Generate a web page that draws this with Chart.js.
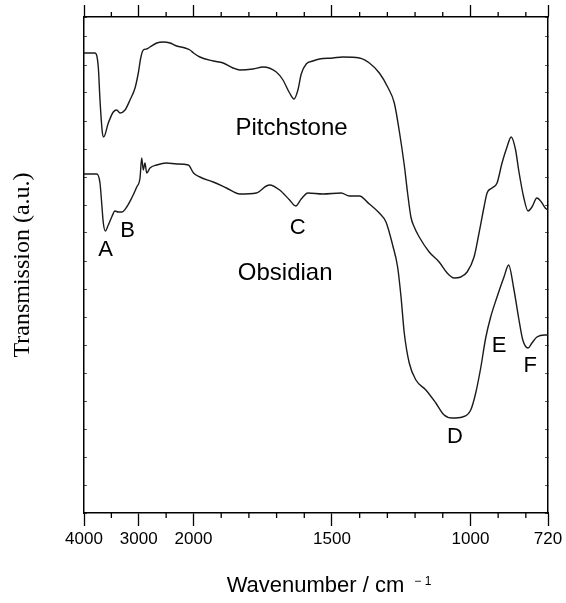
<!DOCTYPE html>
<html>
<head>
<meta charset="utf-8">
<script src="https://cdn.jsdelivr.net/npm/chart.js@4.4.0/dist/chart.umd.min.js"></script>
<style>
  html, body { margin: 0; padding: 0; background: #fff; }
</style>
</head>
<body>
<canvas id="irChart" width="566" height="603"></canvas>
<script>
// IR spectra: wavenumber (cm-1) and transmission (a.u.)
const pitchWave = [4000, 3799, 3739, 3708, 3666, 3640, 3556, 3465, 3403, 3342, 3251, 3160, 3068, 3008, 2964, 2917, 2855, 2795, 2672, 2552,
  2429, 2307, 2155, 2064, 2000, 1977, 1929, 1893, 1857, 1833, 1785, 1749, 1701, 1677, 1653, 1637, 1623, 1611, 1593, 1569,
  1545, 1497, 1461, 1401, 1365, 1329, 1299, 1275, 1257, 1239, 1227, 1215, 1203, 1185, 1149, 1113, 1084, 1059, 1035, 1012,
  987, 969, 951, 940, 922, 904, 886, 868, 853, 837, 826, 808, 792, 778, 760, 744, 730, 720];
const pitchTrans = [460, 460, 446, 413, 381, 376, 390, 401, 403, 400, 403, 413, 425, 440, 455, 463, 464, 466, 470, 471,
  470, 467, 465, 463, 460, 456, 452, 450, 445, 443, 444, 446, 441, 433, 420, 414, 423, 439, 449, 452,
  454, 455, 456, 455, 450, 440, 426, 410, 382, 348, 320, 296, 286, 276, 261, 251, 240, 235, 236, 241,
  256, 280, 306, 320, 325, 330, 350, 366, 376, 363, 343, 316, 302, 306, 315, 311, 305, 303];

const obsWave = [4000, 3768, 3708, 3677, 3647, 3611, 3556, 3494, 3434, 3374, 3311, 3220, 3129, 3037, 2977, 2946, 2917, 2886, 2855, 2795,
  2672, 2490, 2307, 2095, 2000, 1977, 1929, 1881, 1833, 1773, 1737, 1725, 1689, 1653, 1631, 1611, 1587, 1533, 1467, 1437,
  1401, 1365, 1329, 1305, 1281, 1263, 1251, 1239, 1221, 1197, 1161, 1125, 1095, 1065, 1029, 999, 981, 963, 945, 927,
  904, 879, 862, 844, 826, 811, 792, 778, 760, 732, 720];
const obsTrans = [339, 339, 330, 310, 290, 282, 288, 296, 302, 301, 301, 306, 315, 326, 335, 355, 343, 350, 340, 345,
  348, 350, 349, 348, 340, 336, 331, 325, 319, 320, 327, 328, 323, 313, 307, 314, 320, 319, 320, 317,
  317, 309, 300, 291, 268, 246, 217, 180, 150, 133, 123, 110, 98, 95, 96, 103, 120, 145, 175, 196,
  216, 236, 248, 225, 195, 173, 165, 170, 176, 178, 178];

const majorTicks = [4000, 3000, 2000, 1500, 1000, 720];
const minorTicks = [3500, 2500, 1900, 1800, 1700, 1600, 1400, 1300, 1200, 1100, 900, 800];

const labelText = ['Pitchstone', 'Obsidian', 'A', 'B', 'C', 'D', 'E', 'F'];
const labelWave = [1646, 1669, 3607, 3205, 1624, 1056, 897, 784];
const labelTrans = [385, 240, 263, 282, 285, 76, 167, 147];

// x axis changes scale at 2000 cm-1
const BREAK = 2000;
const BREAK_FRAC = 0.236;

class SplitScale extends Chart.LinearScale {
  static id = 'split';
  static defaults = Chart.LinearScale.defaults;
  getPixelForValue(value) {
    let f;
    if (value >= BREAK) f = (this.max - value) / (this.max - BREAK) * BREAK_FRAC;
    else f = BREAK_FRAC + (BREAK - value) / (BREAK - this.min) * (1 - BREAK_FRAC);
    return this.left + f * this.width;
  }
  getValueForPixel(pixel) {
    const f = (pixel - this.left) / this.width;
    if (f <= BREAK_FRAC) return this.max - f / BREAK_FRAC * (this.max - BREAK);
    return BREAK - (f - BREAK_FRAC) / (1 - BREAK_FRAC) * (BREAK - this.min);
  }
}
Chart.register(SplitScale);

Chart.defaults.font.family = 'Liberation Sans';
Chart.defaults.color = '#000';

const allTicks = majorTicks.concat(minorTicks).sort((a, b) => b - a);
const setTicks = scale => { scale.ticks = allTicks.map(v => ({ value: v })); };
const majorColor = ctx => majorTicks.includes(ctx.tick.value) ? '#000' : 'rgba(0,0,0,0)';
const frame = { color: '#000', width: 1.5 };

const toPoints = (xs, ys) => xs.map((x, i) => ({ x: x, y: ys[i] }));

// minor ticks, curve labels and the x title with its superscript
const decor = {
  id: 'decor',
  afterDraw(chart) {
    const { ctx, chartArea } = chart;
    const xs = chart.scales.x;
    const ys = chart.scales.y;
    ctx.save();
    ctx.strokeStyle = '#000';
    ctx.lineWidth = 1.3;
    minorTicks.forEach(v => {
      const px = xs.getPixelForValue(v);
      ctx.beginPath();
      ctx.moveTo(px, chartArea.bottom);
      ctx.lineTo(px, chartArea.bottom + 5);
      ctx.moveTo(px, chartArea.top);
      ctx.lineTo(px, chartArea.top - 5);
      ctx.stroke();
    });

    ctx.fillStyle = '#000';
    ctx.textAlign = 'center';
    ctx.textBaseline = 'middle';
    labelText.forEach((t, i) => {
      ctx.font = (t.length > 1 ? 24 : 22) + 'px "Liberation Sans"';
      ctx.fillText(t, xs.getPixelForValue(labelWave[i]), ys.getPixelForValue(labelTrans[i]));
    });

    const main = 'Wavenumber / cm';
    const sup = '\u2212 1';
    ctx.textAlign = 'left';
    ctx.textBaseline = 'alphabetic';
    ctx.font = '22px "Liberation Sans"';
    const w1 = ctx.measureText(main).width;
    ctx.font = '12px "Liberation Sans"';
    const w2 = ctx.measureText(sup).width;
    const gap = 10;
    const cx = (chartArea.left + chartArea.right) / 2 + 13;
    const x0 = cx - (w1 + gap + w2) / 2;
    const base = chart.height - 11;
    ctx.font = '22px "Liberation Sans"';
    ctx.fillText(main, x0, base);
    ctx.font = '12px "Liberation Sans"';
    ctx.fillText(sup, x0 + w1 + gap, base - 7);
    ctx.restore();
  }
};

new Chart(document.getElementById('irChart'), {
  type: 'line',
  data: {
    datasets: [
      {
        label: 'Pitchstone',
        data: toPoints(pitchWave, pitchTrans),
        borderColor: '#1a1a1a',
        borderWidth: 1.4,
        pointRadius: 0,
        cubicInterpolationMode: 'monotone',
        fill: false
      },
      {
        label: 'Obsidian',
        data: toPoints(obsWave, obsTrans),
        borderColor: '#1a1a1a',
        borderWidth: 1.4,
        pointRadius: 0,
        cubicInterpolationMode: 'monotone',
        fill: false
      }
    ]
  },
  options: {
    responsive: false,
    animation: false,
    events: [],
    layout: { padding: 0 },
    plugins: {
      legend: { display: false },
      tooltip: { enabled: false }
    },
    scales: {
      x: {
        type: 'split',
        position: 'bottom',
        min: 720,
        max: 4000,
        afterBuildTicks: setTicks,
        afterFit: s => { s.height = 90; },
        border: frame,
        grid: { drawOnChartArea: false, tickLength: 13, tickWidth: 1.3, tickColor: majorColor },
        ticks: {
          autoSkip: false,
          maxRotation: 0,
          padding: 3,
          font: { size: 17 },
          callback: v => majorTicks.includes(v) ? String(v) : ''
        }
      },
      xTop: {
        type: 'split',
        position: 'top',
        min: 720,
        max: 4000,
        afterBuildTicks: setTicks,
        afterFit: s => { s.height = 17; },
        border: frame,
        grid: { drawOnChartArea: false, tickLength: 12, tickWidth: 1.3, tickColor: majorColor },
        ticks: { display: false }
      },
      y: {
        position: 'left',
        min: 0,
        max: 496,
        afterFit: s => { s.width = 84; },
        border: frame,
        grid: { drawOnChartArea: false, tickLength: -3, tickWidth: 1, tickColor: '#555' },
        ticks: { display: false, stepSize: 28 },
        title: {
          display: true,
          text: 'Transmission (a.u.)',
          font: { family: 'Liberation Serif', size: 24 },
          padding: { top: 8, bottom: 0 }
        }
      },
      y2: {
        position: 'right',
        min: 0,
        max: 496,
        afterFit: s => { s.width = 18; },
        border: frame,
        grid: { drawOnChartArea: false, tickLength: -3, tickWidth: 1, tickColor: '#555' },
        ticks: { display: false, stepSize: 28 }
      }
    }
  },
  plugins: [decor]
});
</script>
</body>
</html>
